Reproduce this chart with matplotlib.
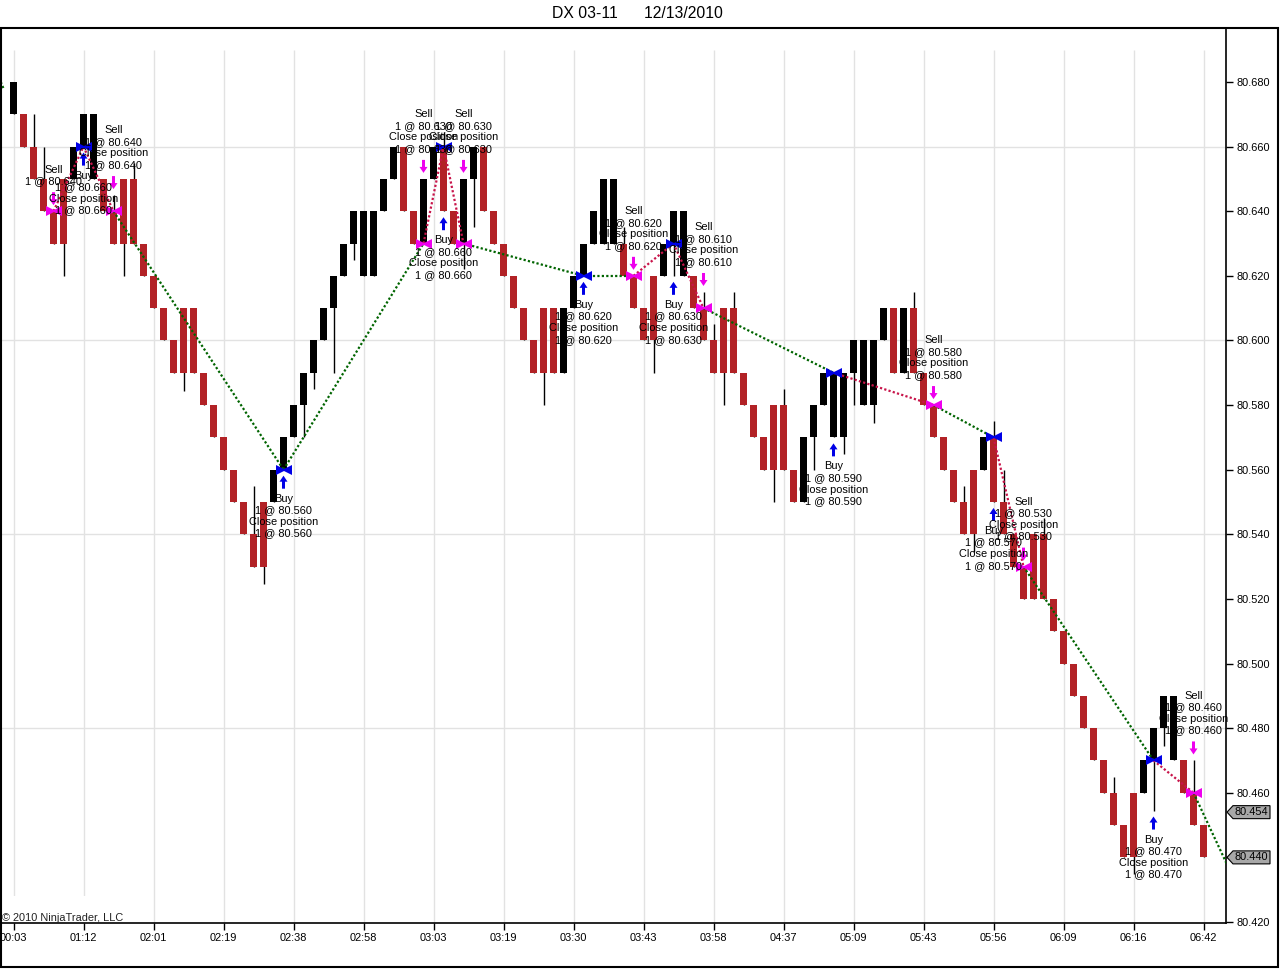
import numpy as np
import matplotlib
matplotlib.use("Agg")
import matplotlib.pyplot as plt
from matplotlib.patches import FancyArrow, Polygon, Rectangle

plt.rcParams['font.family'] = ['Liberation Sans', 'DejaVu Sans']

# --- bar data (bar 1..120) ---
opens = [80.670, 80.670, 80.660, 80.650, 80.640, 80.650, 80.650, 80.660, 80.650, 80.650,
         80.640, 80.650, 80.650, 80.630, 80.620, 80.610, 80.600, 80.610, 80.610, 80.590,
         80.580, 80.570, 80.560, 80.550, 80.540, 80.550, 80.550, 80.560, 80.570, 80.580,
         80.590, 80.600, 80.610, 80.620, 80.630, 80.620, 80.620, 80.640, 80.650, 80.660,
         80.640, 80.630, 80.650, 80.660, 80.640, 80.630, 80.650, 80.660, 80.640, 80.630,
         80.620, 80.610, 80.600, 80.610, 80.610, 80.590, 80.610, 80.620, 80.630, 80.630,
         80.630, 80.630, 80.620, 80.610, 80.620, 80.620, 80.630, 80.620, 80.620, 80.610,
         80.600, 80.610, 80.610, 80.590, 80.580, 80.570, 80.580, 80.580, 80.560, 80.550,
         80.570, 80.580, 80.570, 80.570, 80.590, 80.580, 80.580, 80.600, 80.610, 80.590,
         80.610, 80.590, 80.580, 80.570, 80.560, 80.550, 80.560, 80.560, 80.570, 80.550,
         80.540, 80.530, 80.540, 80.540, 80.520, 80.510, 80.500, 80.490, 80.480, 80.470,
         80.460, 80.450, 80.460, 80.460, 80.470, 80.480, 80.470, 80.470, 80.460, 80.450]
closes = [80.680, 80.660, 80.650, 80.640, 80.630, 80.630, 80.660, 80.670, 80.670, 80.640,
          80.630, 80.630, 80.630, 80.620, 80.610, 80.600, 80.590, 80.590, 80.590, 80.580,
          80.570, 80.560, 80.550, 80.540, 80.530, 80.530, 80.560, 80.570, 80.580, 80.590,
          80.600, 80.610, 80.620, 80.630, 80.640, 80.640, 80.640, 80.650, 80.660, 80.640,
          80.630, 80.650, 80.660, 80.640, 80.630, 80.650, 80.660, 80.640, 80.630, 80.620,
          80.610, 80.600, 80.590, 80.590, 80.590, 80.610, 80.620, 80.630, 80.640, 80.650,
          80.650, 80.620, 80.610, 80.600, 80.600, 80.630, 80.640, 80.640, 80.610, 80.600,
          80.590, 80.590, 80.590, 80.580, 80.570, 80.560, 80.560, 80.560, 80.550, 80.570,
          80.580, 80.590, 80.590, 80.590, 80.600, 80.600, 80.600, 80.610, 80.590, 80.610,
          80.590, 80.580, 80.570, 80.560, 80.550, 80.540, 80.540, 80.570, 80.550, 80.540,
          80.530, 80.520, 80.520, 80.520, 80.510, 80.500, 80.490, 80.480, 80.470, 80.460,
          80.450, 80.440, 80.440, 80.470, 80.480, 80.490, 80.490, 80.460, 80.450, 80.440]
highs = [80.680, 80.670, 80.670, 80.660, 80.640, 80.650, 80.660, 80.670, 80.670, 80.650,
         80.645, 80.650, 80.655, 80.630, 80.620, 80.610, 80.600, 80.610, 80.610, 80.590,
         80.580, 80.570, 80.560, 80.550, 80.555, 80.550, 80.560, 80.570, 80.580, 80.590,
         80.600, 80.610, 80.620, 80.630, 80.640, 80.640, 80.640, 80.650, 80.660, 80.660,
         80.640, 80.650, 80.660, 80.6645, 80.640, 80.650, 80.660, 80.660, 80.640, 80.630,
         80.620, 80.610, 80.600, 80.610, 80.610, 80.610, 80.620, 80.630, 80.640, 80.650,
         80.650, 80.635, 80.620, 80.610, 80.620, 80.630, 80.640, 80.640, 80.620, 80.615,
         80.605, 80.610, 80.615, 80.590, 80.580, 80.570, 80.580, 80.585, 80.560, 80.570,
         80.580, 80.590, 80.590, 80.590, 80.600, 80.600, 80.600, 80.610, 80.610, 80.610,
         80.615, 80.590, 80.580, 80.570, 80.560, 80.555, 80.560, 80.570, 80.575, 80.560,
         80.540, 80.530, 80.540, 80.545, 80.520, 80.510, 80.500, 80.490, 80.480, 80.470,
         80.465, 80.450, 80.460, 80.470, 80.480, 80.490, 80.490, 80.470, 80.470, 80.450]
lows = [80.670, 80.660, 80.650, 80.640, 80.630, 80.620, 80.650, 80.660, 80.650, 80.640,
        80.630, 80.620, 80.630, 80.620, 80.610, 80.600, 80.590, 80.5845, 80.590, 80.580,
        80.570, 80.560, 80.550, 80.540, 80.530, 80.5245, 80.550, 80.560, 80.570, 80.570,
        80.585, 80.600, 80.590, 80.620, 80.625, 80.620, 80.620, 80.640, 80.650, 80.640,
        80.630, 80.630, 80.650, 80.640, 80.630, 80.622, 80.635, 80.640, 80.630, 80.620,
        80.610, 80.600, 80.590, 80.580, 80.590, 80.590, 80.610, 80.620, 80.630, 80.630,
        80.630, 80.620, 80.610, 80.600, 80.590, 80.620, 80.620, 80.620, 80.610, 80.600,
        80.590, 80.580, 80.590, 80.580, 80.570, 80.560, 80.550, 80.560, 80.550, 80.550,
        80.560, 80.580, 80.570, 80.565, 80.580, 80.580, 80.5745, 80.600, 80.590, 80.590,
        80.590, 80.580, 80.570, 80.560, 80.550, 80.540, 80.5345, 80.560, 80.550, 80.540,
        80.530, 80.520, 80.520, 80.520, 80.510, 80.500, 80.490, 80.480, 80.470, 80.460,
        80.450, 80.440, 80.435, 80.460, 80.4545, 80.4745, 80.470, 80.460, 80.450, 80.440]

# --- executions ---
trade_bars = [5, 8, 11, 28, 42, 44, 46, 58, 63, 67, 70, 83, 93, 99, 102, 115, 119]
trade_prices = [80.640, 80.660, 80.640, 80.560, 80.630, 80.660, 80.630, 80.620, 80.620,
                80.630, 80.610, 80.590, 80.580, 80.570, 80.530, 80.470, 80.460]
trade_sides = ['Sell', 'Buy', 'Sell', 'Buy', 'Sell', 'Buy', 'Sell', 'Buy', 'Sell',
               'Buy', 'Sell', 'Buy', 'Sell', 'Buy', 'Sell', 'Buy', 'Sell']
# trade line before the first bar and the open trade running off the right edge
prior_line_x = [-3.0, 0.0]
prior_line_y = [80.700, 80.678]
open_end_x = 122.4
open_end_y = 80.4375

time_ticks = [1, 8, 15, 22, 29, 36, 43, 50, 57, 64, 71, 78, 85, 92, 99, 106, 113, 120]
time_labels = ['00:03', '01:12', '02:01', '02:19', '02:38', '02:58', '03:03', '03:19', '03:30',
               '03:43', '03:58', '04:37', '05:09', '05:43', '05:56', '06:09', '06:16', '06:42']
price_ticks = [80.420, 80.440, 80.460, 80.480, 80.500, 80.520, 80.540, 80.560, 80.580,
               80.600, 80.620, 80.640, 80.660, 80.680]
grid_levels = [80.480, 80.540, 80.600, 80.660]
price_markers = [80.454, 80.440]

RED = '#b22226'
GREEN = '#006400'
LOSS = '#c8144a'
BLUE = '#0000e6'
MAGENTA = '#ee00ee'

W, H = 1280, 969
fig = plt.figure(figsize=(W / 100, H / 100), dpi=100)
ax = fig.add_axes([0, 46 / H, 1226 / W, 895 / H])
ymin, ymax = 80.41969, 80.69671
ax.set_xlim(-0.35, 122.25)
ax.set_ylim(ymin, ymax)
py = (ymax - ymin) / 895.0   # price per pixel
pxa = 1 / 1226.0             # axes fraction per pixel

ax.vlines(time_ticks, ymin, ymax - 22 * py, color='#e2e2e2', lw=1, zorder=0.5)
for y in grid_levels:
    ax.axhline(y, color='#e2e2e2', lw=1, zorder=0.5)
ax.add_patch(Rectangle((-0.35, ymin), 14.3, 27 * py, facecolor='white', edgecolor='none', zorder=0.8))

n = len(opens)
xs = np.arange(1, n + 1)
o = np.array(opens)
c = np.array(closes)
up = c > o
ax.vlines(xs, lows, highs, color='black', lw=1, zorder=2)
ax.bar(xs, np.abs(c - o), bottom=np.minimum(o, c), width=0.68,
       color=np.where(up, 'black', RED), linewidth=0, zorder=3)

# trade lines
ax.plot(prior_line_x, prior_line_y, color=GREEN, lw=1.6, dashes=(1, 1), zorder=4)
for i in range(len(trade_bars) - 1):
    p0, p1 = trade_prices[i], trade_prices[i + 1]
    gain = p0 - p1 if trade_sides[i] == 'Sell' else p1 - p0
    ax.plot([trade_bars[i], trade_bars[i + 1]], [p0, p1], color=GREEN if gain >= 0 else LOSS,
            lw=1.6, dashes=(1, 1), zorder=4)
ax.plot([trade_bars[-1], open_end_x], [trade_prices[-1], open_end_y], color=GREEN,
        lw=1.6, dashes=(1, 1), zorder=4, clip_on=True)

for k, (b, p, side) in enumerate(zip(trade_bars, trade_prices, trade_sides)):
    col = BLUE if side == 'Buy' else MAGENTA
    ax.plot([b - 0.3], [p], marker='>', color=col, ms=6.5, zorder=5, mew=0)
    ax.plot([b + 0.3], [p], marker='<', color=col, ms=6.5, zorder=5, mew=0)
    if k == 0:
        label = f"{side}\n1 @ {p:.3f}"
    else:
        label = f"{side}\n1 @ {p:.3f}\nClose position\n1 @ {p:.3f}"
    if side == 'Buy':
        base = lows[b - 1]
        ax.add_patch(FancyArrow(b, base - 19 * py, 0, 13 * py, width=0.3, head_width=0.8,
                                head_length=6 * py, length_includes_head=True,
                                color=col, lw=0, zorder=5))
        ax.text(b, base - 24 * py, label, ha='center', va='top', fontsize=7.9,
                multialignment='center', zorder=6)
    else:
        base = highs[b - 1]
        ax.add_patch(FancyArrow(b, base + 19 * py, 0, -13 * py, width=0.3, head_width=0.8,
                                head_length=6 * py, length_includes_head=True,
                                color=col, lw=0, zorder=5))
        ax.text(b, base + 25 * py, label, ha='center', va='bottom', fontsize=7.9,
                multialignment='center', zorder=6)

# axes styling
ax.spines['top'].set_visible(False)
ax.spines['left'].set_visible(False)
ax.spines['bottom'].set_linewidth(1.2)
ax.spines['right'].set_linewidth(1.2)
ax.yaxis.tick_right()
ax.set_xticks(time_ticks)
ax.set_xticklabels(time_labels)
ax.set_yticks(price_ticks)
ax.set_yticklabels([f"{v:.3f}" for v in price_ticks])
ax.tick_params(axis='both', direction='out', length=5, width=1, labelsize=7.9, pad=2.5)

# last price markers on the right axis
for p in price_markers:
    hh = 6.5 * py
    pts = [(1 + 1 * pxa, p), (1 + 7 * pxa, p + hh), (1 + 44 * pxa, p + hh),
           (1 + 44 * pxa, p - hh), (1 + 7 * pxa, p - hh)]
    ax.add_patch(Polygon(pts, closed=True, transform=ax.get_yaxis_transform(),
                         facecolor='#a8a8a8', edgecolor='black', lw=0.8,
                         clip_on=False, zorder=10))
    ax.text(1 + 8.5 * pxa, p, f"{p:.3f}", transform=ax.get_yaxis_transform(),
            ha='left', va='center', fontsize=7.9, clip_on=False, zorder=11)

ax.text(-0.1, ymin + 10 * py, "\u00a9 2010 NinjaTrader, LLC", ha='left', va='top',
        fontsize=7.9, color='#222222', clip_on=True, zorder=6)

# outer frame and title
fig.add_artist(Rectangle((0.5 / W, 2 / H), 1277.5 / W, 939 / H, transform=fig.transFigure,
                         fill=False, edgecolor='black', lw=1.5))
fig.text(637.5 / W, 1 - 13 / H, "DX 03-11      12/13/2010", ha='center', va='center',
         fontsize=11.3)

fig.savefig('out.png', dpi=100)
